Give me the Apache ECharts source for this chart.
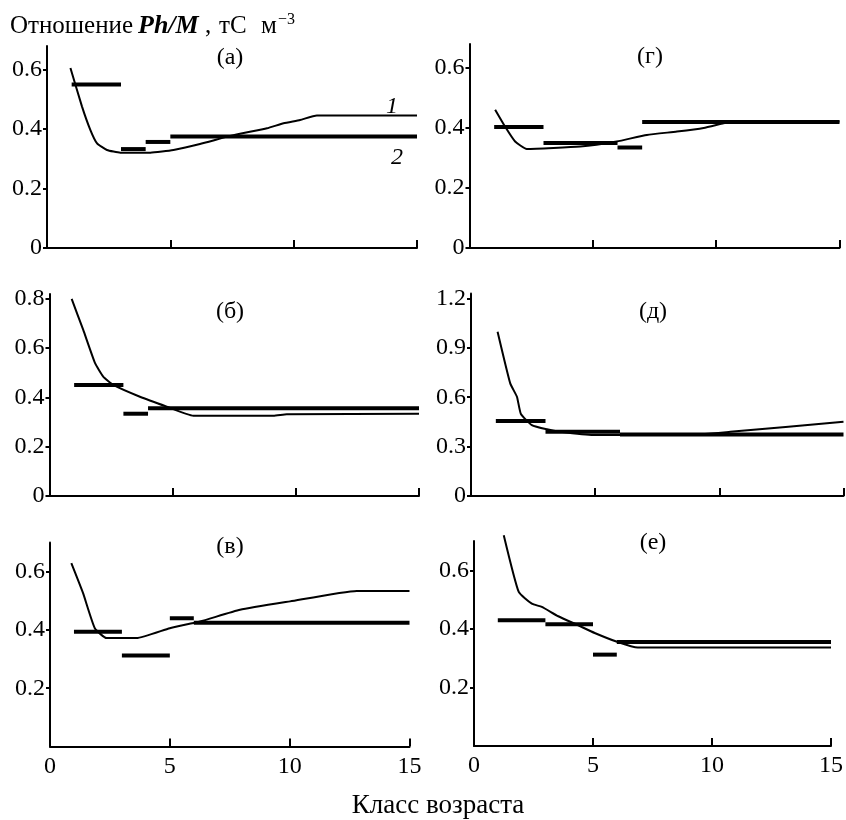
<!DOCTYPE html>
<html><head><meta charset="utf-8">
<script src="https://cdn.jsdelivr.net/npm/echarts@6/dist/echarts.min.js"></script>
<style>html,body{margin:0;background:#fff}#c{width:846px;height:820px}</style>
</head><body><div id="c"></div>
<script>
// ---- data ----
const panelNames = ['(а)', '(г)', '(б)', '(д)', '(в)', '(е)'];
const xTickValues = [5, 10, 15];
const xLabelValues = [0, 5, 10, 15];
const yTicksA = [0, 0.2, 0.4, 0.6];
const yTicksG = [0, 0.2, 0.4, 0.6];
const yTicksB = [0, 0.2, 0.4, 0.6, 0.8];
const yTicksD = [0, 0.3, 0.6, 0.9, 1.2];
const yTicksV = [0.2, 0.4, 0.6];
const yTicksE = [0.2, 0.4, 0.6];
const yMaxes = [0.68, 0.68, 0.82, 1.23, 0.70, 0.70];

// series 1: curves [class, ratio]
const curveA = [[0.95,0.606],[1.42,0.476],[1.76,0.397],[2.03,0.352],[2.43,0.33],[2.97,0.321],[4.19,0.321],[5.13,0.33],[6.2,0.35],[7.56,0.38],[8.92,0.403],[9.59,0.42],[10.26,0.431],[10.94,0.446],[15,0.446]];
const curveG = [[1.04,0.461],[1.44,0.405],[1.85,0.355],[2.32,0.33],[4.49,0.338],[5.97,0.355],[7.19,0.377],[8.41,0.388],[9.49,0.4],[10.3,0.416],[10.6,0.42],[15,0.422]];
const curveB = [[0.9,0.8],[1.37,0.674],[1.85,0.539],[2.18,0.485],[2.59,0.451],[3.67,0.403],[4.76,0.363],[5.84,0.326],[9.09,0.326],[9.63,0.332],[15,0.334]];
const curveD = [[1.07,0.998],[1.58,0.684],[1.85,0.603],[2.01,0.498],[2.45,0.431],[3.06,0.405],[3.59,0.39],[4.93,0.37],[8.7,0.37],[10.44,0.39],[15,0.451]];
const curveV = [[0.89,0.629],[1.38,0.526],[1.87,0.406],[2.36,0.372],[3.61,0.372],[5.0,0.406],[6.26,0.429],[7.93,0.469],[10.02,0.498],[12.8,0.534],[15,0.534]];
const curveE = [[1.25,0.72],[1.88,0.526],[2.43,0.486],[2.85,0.475],[3.54,0.443],[4.38,0.412],[5.07,0.386],[6.04,0.355],[6.88,0.336],[15,0.336]];

// series 2: horizontal segments [fromClass, toClass, ratio]
const segA = [[1,3,0.55],[3,4,0.333],[4,5,0.357],[5,15,0.375]];
const segG = [[1,3,0.403],[3,6,0.35],[6,7,0.335],[7,15,0.42]];
const segB = [[1,3,0.451],[3,4,0.334],[4,15,0.356]];
const segD = [[1,3,0.455],[3,6,0.39],[6,15,0.373]];
const segV = [[1,3,0.394],[3,5,0.312],[5,6,0.44],[6,15,0.425]];
const segE = [[1,3,0.429],[3,5,0.416],[5,6,0.312],[6,15,0.355]];

const curves = [curveA, curveG, curveB, curveD, curveV, curveE];
const segs = [segA, segG, segB, segD, segV, segE];
const yTicks = [yTicksA, yTicksG, yTicksB, yTicksD, yTicksV, yTicksE];

// ---- layout ----
const grids = [
  {left: 47, top: 46, width: 370, height: 202},
  {left: 469.5, top: 44, width: 370, height: 204},
  {left: 49.5, top: 294, width: 369.5, height: 202},
  {left: 471, top: 293.5, width: 372.5, height: 202.5},
  {left: 50, top: 542.5, width: 359.5, height: 204},
  {left: 474, top: 541, width: 360, height: 205}
];
const labelPos = [[230,58],[650,57],[230,312],[653,312],[230,547],[653,543]];
const FONT = '"Liberation Serif", "DejaVu Serif", serif';

const chart = echarts.init(document.getElementById('c'));
const xAxes = [], yAxes = [], series = [];
grids.forEach((g, i) => {
  const bottomRow = i >= 4;
  xAxes.push({
    gridIndex: i, type: 'value', min: 0, max: 15,
    axisLine: {lineStyle: {color: '#000', width: 2}},
    axisTick: {show: true, inside: true, length: 8, lineStyle: {color: '#000', width: 2}, customValues: xTickValues},
    axisLabel: {show: bottomRow, customValues: xLabelValues, color: '#000', fontFamily: FONT, fontSize: 24, margin: 8},
    splitLine: {show: false}
  });
  yAxes.push({
    gridIndex: i, type: 'value', min: 0, max: yMaxes[i],
    axisLine: {show: true, lineStyle: {color: '#000', width: 2}},
    axisTick: {show: true, inside: false, length: 4, lineStyle: {color: '#000', width: 2}, customValues: yTicks[i]},
    axisLabel: {customValues: yTicks[i], color: '#000', fontFamily: FONT, fontSize: 24, margin: 5,
      formatter: v => String(Math.round(v * 10) / 10)},
    splitLine: {show: false}
  });
  series.push({
    type: 'line', xAxisIndex: i, yAxisIndex: i, data: curves[i], showSymbol: false, clip: false,
    lineStyle: {color: '#000', width: 2}, smooth: 0.15
  });
  segs[i].forEach(s => {
    series.push({
      type: 'line', xAxisIndex: i, yAxisIndex: i, data: [[s[0], s[2]], [s[1], s[2]]], showSymbol: false,
      lineStyle: {color: '#000', width: 4}
    });
  });
});

const graphics = panelNames.map((n, i) => ({
  type: 'text', x: labelPos[i][0], y: labelPos[i][1],
  style: {text: n, font: '24px ' + FONT, fill: '#000', align: 'center', verticalAlign: 'middle'}
}));
graphics.push({type: 'text', x: 392, y: 107, style: {text: '1', font: 'italic 24px ' + FONT, fill: '#000', align: 'center', verticalAlign: 'middle'}});
graphics.push({type: 'text', x: 397, y: 158, style: {text: '2', font: 'italic 24px ' + FONT, fill: '#000', align: 'center', verticalAlign: 'middle'}});
graphics.push({type: 'text', x: 438, y: 806, style: {text: 'Класс возраста', font: '27px ' + FONT, fill: '#000', align: 'center', verticalAlign: 'middle'}});

const base = {fontFamily: FONT, fontSize: 25, fontWeight: 'normal', color: '#000'};
chart.setOption({
  animation: false,
  title: {
    left: 10, top: 12, padding: 0,
    text: '{a|Отношение}{b|Ph/M}{c|,}{d|тС}{e|м}{s|−3}',
    textStyle: {fontWeight: 'normal', rich: {
      a: Object.assign({}, base, {width: 128}),
      b: Object.assign({}, base, {fontSize: 26, fontStyle: 'italic', fontWeight: 'bold', width: 67}),
      c: Object.assign({}, base, {width: 14}),
      d: Object.assign({}, base, {width: 42}),
      e: Object.assign({}, base, {width: 17}),
      s: Object.assign({}, base, {fontSize: 16, verticalAlign: 'top', padding: [0, 0, 12, 0]})
    }}
  },
  grid: grids,
  xAxis: xAxes,
  yAxis: yAxes,
  series: series,
  graphic: graphics
});
</script></body></html>
